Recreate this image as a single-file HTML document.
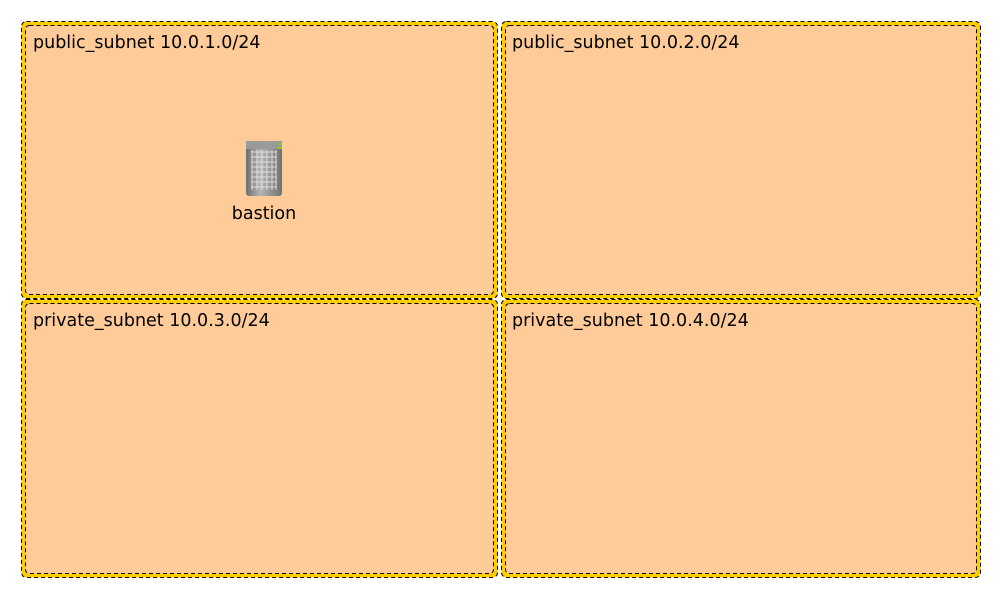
<!DOCTYPE html>
<html><head><meta charset="utf-8"><style>
html,body{margin:0;padding:0;background:#fff;width:1003px;height:598px;overflow:hidden}
text{font-family:"DejaVu Sans","Liberation Sans",sans-serif;font-size:17.5px;fill:#000}
</style></head><body>
<svg width="1003" height="598" xmlns="http://www.w3.org/2000/svg">
<defs>
<linearGradient id="g" x1="0" x2="1"><stop offset="0" stop-color="#6e6e6e"/><stop offset="0.4" stop-color="#b5b5b5"/><stop offset="1" stop-color="#707070"/></linearGradient>
</defs>
<g>
<rect x="21.5" y="21.5" width="476" height="277" rx="5" fill="#ffcc00" stroke="#000" stroke-dasharray="4,3"/>
<rect x="25.5" y="25.5" width="468" height="269" rx="4" fill="#ffcc99" stroke="#000" stroke-dasharray="4,3"/>
<text x="33" y="48">public_subnet 10.0.1.0/24</text>
</g>
<g>
<rect x="501.5" y="21.5" width="479" height="277" rx="5" fill="#ffcc00" stroke="#000" stroke-dasharray="4,3"/>
<rect x="505.5" y="25.5" width="471" height="269" rx="4" fill="#ffcc99" stroke="#000" stroke-dasharray="4,3"/>
<text x="512" y="48">public_subnet 10.0.2.0/24</text>
</g>
<g>
<rect x="21.5" y="299.5" width="476" height="278" rx="5" fill="#ffcc00" stroke="#000" stroke-dasharray="4,3"/>
<rect x="25.5" y="303.5" width="468" height="270" rx="4" fill="#ffcc99" stroke="#000" stroke-dasharray="4,3"/>
<text x="33" y="326">private_subnet 10.0.3.0/24</text>
</g>
<g>
<rect x="501.5" y="299.5" width="479" height="278" rx="5" fill="#ffcc00" stroke="#000" stroke-dasharray="4,3"/>
<rect x="505.5" y="303.5" width="471" height="270" rx="4" fill="#ffcc99" stroke="#000" stroke-dasharray="4,3"/>
<text x="512" y="326">private_subnet 10.0.4.0/24</text>
</g>
<g>
<rect x="246" y="141" width="36" height="55" rx="3" fill="url(#g)"/>
<rect x="246" y="141" width="36" height="8" fill="#9a9a9a"/>
<rect x="278" y="143" width="4" height="2" fill="#8c3"/>
<rect x="278" y="147" width="4" height="2" fill="#8c3"/>
<g stroke="#eee" stroke-width="1" opacity="0.8">
<line x1="251" y1="152" x2="277" y2="152"/><line x1="251" y1="157" x2="277" y2="157"/><line x1="251" y1="162" x2="277" y2="162"/><line x1="251" y1="167" x2="277" y2="167"/><line x1="251" y1="172" x2="277" y2="172"/><line x1="251" y1="177" x2="277" y2="177"/><line x1="251" y1="182" x2="277" y2="182"/><line x1="251" y1="187" x2="277" y2="187"/>
<line x1="252" y1="150" x2="252" y2="190"/><line x1="257" y1="150" x2="257" y2="190"/><line x1="262" y1="150" x2="262" y2="190"/><line x1="267" y1="150" x2="267" y2="190"/><line x1="272" y1="150" x2="272" y2="190"/><line x1="276" y1="150" x2="276" y2="190"/>
</g>
<text x="264" y="219" text-anchor="middle">bastion</text>
</g>
</svg>
</body></html>
